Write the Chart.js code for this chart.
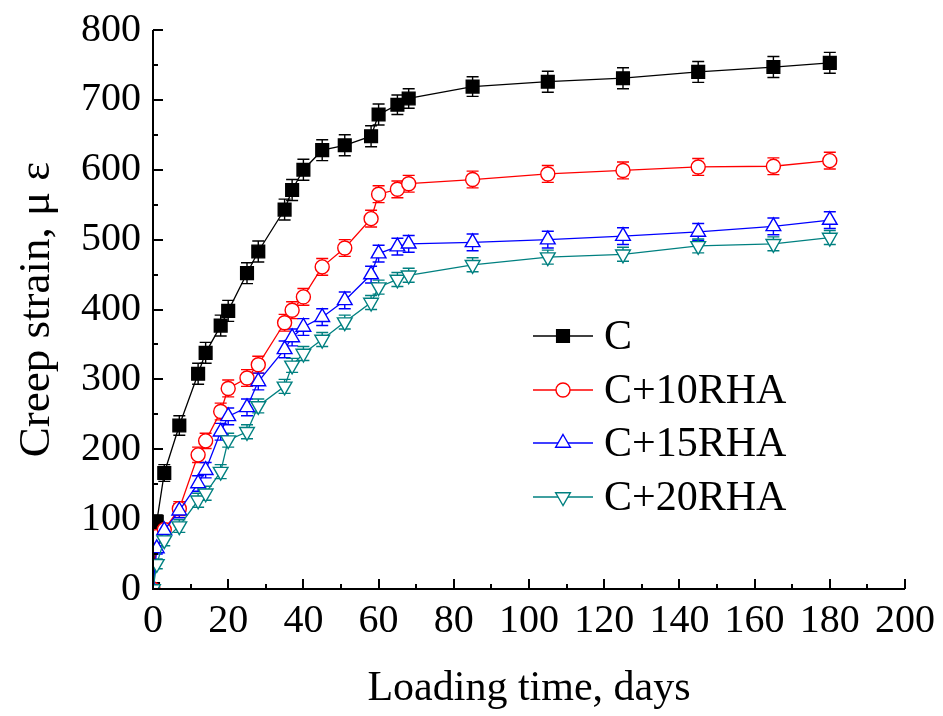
<!DOCTYPE html>
<html>
<head>
<meta charset="utf-8">
<script src="https://cdn.jsdelivr.net/npm/chart.js@4.4.0/dist/chart.umd.min.js"></script>
<style>
html, body { margin: 0; padding: 0; background: #fff; }
#wrap { width: 943px; height: 716px; }
</style>
</head>
<body>
<div id="wrap"><canvas id="chart-area"></canvas></div>
<script>
// loading time (days) and creep strain (micro-strain) per mix
var days = [0, 1, 3, 7, 12, 14, 18, 20, 25, 28, 35, 37, 40, 45, 51, 58, 60, 65, 68, 85, 105, 125, 145, 165, 180];
var strainC = [0, 96, 166, 234, 308, 338, 377, 398, 452, 483, 543, 571, 600, 628, 635, 648, 679, 693, 702, 719, 726, 731, 740, 747, 753];
var strain10 = [0, 75, 85, 115, 192, 212, 254, 287, 302, 321, 381, 399, 418, 461, 488, 530, 565, 572, 580, 586, 594, 599, 604, 605, 613];
var strain15 = [0, 58, 84, 112, 151, 170, 225, 247, 260, 297, 343, 360, 375, 389, 413, 450, 480, 490, 494, 496, 500, 505, 511, 519, 528];
var strain20 = [0, 36, 70, 90, 127, 137, 168, 213, 225, 262, 290, 320, 337, 357, 382, 410, 432, 443, 449, 464, 475, 479, 491, 494, 503];

// half-width of the error bars
var errC = [0, 10, 12, 14, 15, 15, 15, 15, 15, 15, 15, 15, 15, 15, 15, 15, 15, 14, 14, 14, 15, 15, 15, 15, 15];
var err10 = [0, 8, 9, 10, 11, 11, 12, 12, 12, 12, 12, 12, 12, 12, 12, 12, 12, 12, 12, 12, 12, 12, 12, 12, 12];
var err15 = [0, 8, 9, 10, 11, 11, 12, 12, 12, 12, 12, 12, 12, 12, 12, 12, 12, 12, 12, 12, 12, 12, 12, 12, 12];
var err20 = [0, 7, 8, 9, 10, 10, 10, 10, 10, 10, 10, 10, 10, 10, 10, 10, 10, 10, 10, 10, 10, 10, 10, 10, 10];

var seriesNames = ['C', 'C+10RHA', 'C+15RHA', 'C+20RHA'];
var xTicks = [0, 20, 40, 60, 80, 100, 120, 140, 160, 180, 200];
var yTicks = [0, 100, 200, 300, 400, 500, 600, 700, 800];

var serif = '"Liberation Serif", "Times New Roman", serif';

function points(ys) {
    return days.map(function(d, i) { return { x: d, y: ys[i] }; });
}

function series(label, ys, errs, color, style, radius, rotation, fill, order) {
    return {
        label: label,
        data: points(ys),
        errors: errs,
        borderColor: color,
        backgroundColor: color,
        borderWidth: 1.3,
        pointStyle: style,
        pointRadius: radius,
        pointRotation: rotation,
        pointBorderColor: color,
        pointBackgroundColor: fill,
        pointBorderWidth: 1.4,
        pointHoverRadius: radius,
        tension: 0,
        order: order
    };
}

// error bars with caps, drawn under the markers
var errorBars = {
    id: 'errorBars',
    beforeDatasetsDraw: function(chart) {
        var ctx = chart.ctx;
        var ys = chart.scales.y;
        var area = chart.chartArea;
        ctx.save();
        ctx.beginPath();
        ctx.rect(area.left, area.top - 10, area.right - area.left, area.bottom - area.top + 10);
        ctx.clip();
        chart.data.datasets.forEach(function(ds, di) {
            var meta = chart.getDatasetMeta(di);
            ctx.strokeStyle = ds.borderColor;
            ctx.lineWidth = 1.4;
            meta.data.forEach(function(pt, i) {
                var e = ds.errors[i];
                if (!e) return;
                var v = ds.data[i].y;
                var top = ys.getPixelForValue(v + e);
                var bot = ys.getPixelForValue(v - e);
                ctx.beginPath();
                ctx.moveTo(pt.x, top);
                ctx.lineTo(pt.x, bot);
                ctx.moveTo(pt.x - 6, top);
                ctx.lineTo(pt.x + 6, top);
                ctx.moveTo(pt.x - 6, bot);
                ctx.lineTo(pt.x + 6, bot);
                ctx.stroke();
            });
        });
        ctx.restore();
    }
};

// left and bottom axis lines with inward major/minor ticks
var frameAxes = {
    id: 'frameAxes',
    afterDatasetsDraw: function(chart) {
        var ctx = chart.ctx;
        var xs = chart.scales.x, ys = chart.scales.y;
        var a = chart.chartArea;
        ctx.save();
        ctx.strokeStyle = '#000';
        ctx.lineWidth = 2;
        ctx.beginPath();
        ctx.moveTo(a.left, a.top);
        ctx.lineTo(a.left, a.bottom);
        ctx.lineTo(a.right, a.bottom);
        ctx.stroke();
        ctx.beginPath();
        for (var v = 0; v <= 200; v += 10) {
            var px = Math.round(xs.getPixelForValue(v));
            var len = v % 20 === 0 ? 10 : 5;
            ctx.moveTo(px, a.bottom);
            ctx.lineTo(px, a.bottom - len);
        }
        for (var w = 0; w <= 800; w += 50) {
            var py = Math.round(ys.getPixelForValue(w));
            var ln = w % 100 === 0 ? 10 : 5;
            ctx.moveTo(a.left, py);
            ctx.lineTo(a.left + ln, py);
        }
        ctx.stroke();
        ctx.restore();
    }
};

// legend inside the plot area
var boxLegend = {
    id: 'boxLegend',
    afterDraw: function(chart) {
        var ctx = chart.ctx;
        var rows = [336, 390, 443, 497];
        ctx.save();
        ctx.font = '42px ' + serif;
        ctx.textBaseline = 'middle';
        chart.data.datasets.forEach(function(ds, i) {
            var y = rows[i];
            ctx.strokeStyle = ds.borderColor;
            ctx.lineWidth = 1.4;
            ctx.beginPath();
            ctx.moveTo(533, y);
            ctx.lineTo(593, y);
            ctx.stroke();
            ctx.fillStyle = ds.pointBackgroundColor;
            ctx.strokeStyle = ds.pointBorderColor;
            Chart.helpers.drawPoint(ctx, {
                pointStyle: ds.pointStyle,
                radius: ds.pointRadius,
                rotation: ds.pointRotation,
                borderWidth: 1.4
            }, 563, y);
            ctx.fillStyle = '#000';
            ctx.fillText(seriesNames[i], 604, y + 2);
        });
        ctx.restore();
    }
};

var config = {
    type: 'line',
    data: {
        datasets: [
            series(seriesNames[0], strainC, errC, '#000000', 'rect', 9, 0, '#000000', 3),
            series(seriesNames[1], strain10, err10, '#FF0000', 'circle', 7, 0, '#FFFFFF', 2),
            series(seriesNames[2], strain15, err15, '#0000FF', 'triangle', 8.5, 0, '#FFFFFF', 1),
            series(seriesNames[3], strain20, err20, '#008080', 'triangle', 8.5, 180, '#FFFFFF', 0)
        ]
    },
    options: {
        responsive: false,
        animation: false,
        layout: {
            padding: { top: 30, right: 38, left: 0, bottom: 0 }
        },
        plugins: {
            legend: { display: false },
            tooltip: { enabled: false }
        },
        scales: {
            x: {
                type: 'linear',
                min: 0,
                max: 200,
                afterBuildTicks: function(scale) {
                    scale.ticks = xTicks.map(function(v) { return { value: v }; });
                },
                afterFit: function(scale) {
                    scale.height = 127;
                    scale.paddingLeft = 0;
                    scale.paddingRight = 0;
                },
                grid: { display: false, drawTicks: false },
                border: { display: false },
                ticks: {
                    color: '#000',
                    padding: 8,
                    maxRotation: 0,
                    autoSkip: false,
                    font: { family: serif, size: 40 }
                },
                title: {
                    display: true,
                    text: 'Loading time, days',
                    color: '#000',
                    font: { family: serif, size: 42, lineHeight: 1 },
                    padding: { top: 0, bottom: 6 }
                }
            },
            y: {
                type: 'linear',
                min: 0,
                max: 800,
                afterBuildTicks: function(scale) {
                    scale.ticks = yTicks.map(function(v) { return { value: v }; });
                },
                afterFit: function(scale) {
                    scale.width = 153;
                    scale.paddingTop = 0;
                    scale.paddingBottom = 0;
                },
                grid: { display: false, drawTicks: false },
                border: { display: false },
                ticks: {
                    color: '#000',
                    padding: 12,
                    autoSkip: false,
                    font: { family: serif, size: 40 }
                },
                title: {
                    display: true,
                    text: 'Creep strain, μ ε',
                    color: '#000',
                    font: { family: serif, size: 45, lineHeight: 1 },
                    padding: { top: 15, bottom: 0 }
                }
            }
        }
    },
    plugins: [errorBars, frameAxes, boxLegend]
};

window.onload = function() {
    var canvas = document.getElementById('chart-area');
    canvas.width = 943;
    canvas.height = 716;
    var ctx = canvas.getContext('2d');
    window.creepChart = new Chart(ctx, config);
};
</script>
</body>
</html>
